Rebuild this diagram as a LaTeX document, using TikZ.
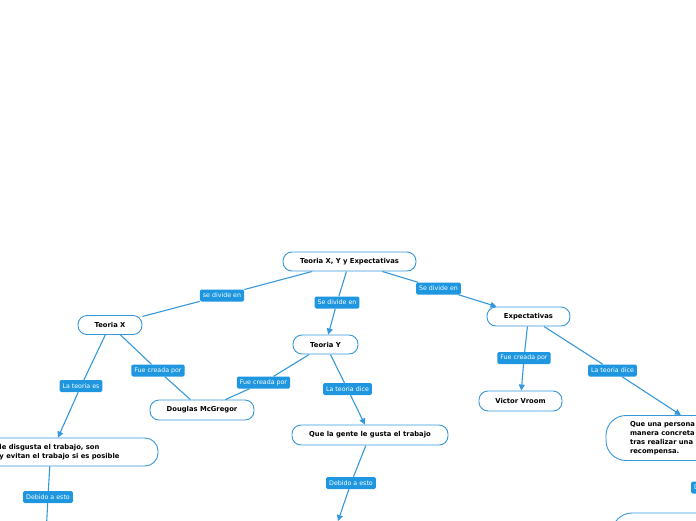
\documentclass[tikz,border=0pt]{standalone}
\usepackage{fontspec}
\setmainfont{DejaVu Sans}
\usetikzlibrary{arrows.meta}
\pgfdeclarelayer{background}
\pgfsetlayers{background,main}
\definecolor{mmblue}{RGB}{30,150,224}
\definecolor{mmline}{RGB}{52,152,219}

\begin{document}
\begin{tikzpicture}[x=1pt,y=-1pt,
						topicnode/.style={draw=mmline, line width=0.9pt, fill=white, rounded corners=9pt, minimum height=19pt, inner sep=2pt, font=\fontsize{6.8}{9}\selectfont\bfseries},
						linklabel/.style={fill=mmblue, text=white, rounded corners=1.5pt, minimum height=12pt, inner xsep=3pt, inner ysep=0pt, font=\fontsize{6.3}{8}\selectfont},
						link/.style={draw=mmline, line width=1.1pt},
						arrowlink/.style={link, -{Triangle[length=6pt,width=6pt]}},
						]
						\useasboundingbox (0,0) rectangle (696,520);
						\clip (0,0) rectangle (696,520);
						%Nodes
						\node[topicnode, minimum width=133pt]	(root)		at	(349.5,261.5)	{Teoria X, Y y Expectativas};
						\node[topicnode, minimum width=64pt]	(teoX)		at	(110,325)	{Teoria X};
						\node[topicnode, minimum width=65pt]	(teoY)		at	(325.5,344.5)	{Teoria Y};
						\node[topicnode, minimum width=83pt]	(expect)	at	(528.5,316.5)	{Expectativas};
						\node[topicnode, minimum width=104pt, minimum height=20pt]	(mcgregor)	at	(202,410)	{Douglas McGregor};
						\node[topicnode, minimum width=83pt, minimum height=20pt]	(vroom)		at	(520.5,401)	{Victor Vroom};
						\node[topicnode, minimum width=156pt, minimum height=20pt]	(gusta)		at	(370,435)	{Que la gente le gusta el trabajo};
						\node[topicnode, rounded corners=13pt, minimum width=197pt, minimum height=28pt, align=left]	(disgusta)	at	(59.5,452)	{le disgusta el trabajo, son\\y evitan el trabajo si es posible};
						\node[topicnode, rounded corners=20pt, minimum height=45pt, text width=172pt, inner xsep=24pt, align=left]	(persona)	at	(716,438)	{Que una persona\\manera concreta\\tras realizar una\\recompensa.};
						\node[topicnode, rounded corners=20pt, minimum width=220pt, minimum height=45pt]	(personaNext)	at	(722,535.5)	{};
						\coordinate	(gustaNext)	at	(338,521);
						\coordinate	(disgustaNext)	at	(46,535);
						
						%Labels
						\node[linklabel]	(lDivX)		at	(222,295.5)	{se divide en};
						\node[linklabel]	(lDivY)		at	(337,302.5)	{Se divide en};
						\node[linklabel]	(lDivExp)	at	(438.5,288.5)	{Se divide en};
						\node[linklabel]	(lTeoEs)	at	(81,386)	{La teoria es};
						\node[linklabel]	(lCreaX)	at	(158,370.5)	{Fue creada por};
						\node[linklabel]	(lCreaY)	at	(263.5,382.5)	{Fue creada por};
						\node[linklabel]	(lDiceY)	at	(347.5,389)	{La teoria dice};
						\node[linklabel]	(lDebX)		at	(48,497)	{Debido a esto};
						\node[linklabel]	(lDebY)		at	(351,483)	{Debido a esto};
						\node[linklabel]	(lCreaExp)	at	(524,358)	{Fue creada por};
						\node[linklabel]	(lDiceExp)	at	(612.5,370.5)	{La teoria dice};
						\node[linklabel]	(lDebExp)	at	(716,487.5)	{Debido a esto};
						
						\begin{pgfonlayer}{background}
						\draw[link] (root) -- (lDivX) -- (teoX);
						\draw[arrowlink] (root) -- (lDivY) -- (teoY);
						\draw[arrowlink] (root) -- (lDivExp) -- (expect);
						\draw[link] (teoX) -- (lCreaX) -- (mcgregor);
						\draw[link] (teoY) -- (lCreaY) -- (mcgregor);
						\draw[arrowlink] (teoX) -- (lTeoEs) -- (disgusta.96);
						\draw[arrowlink] (teoY) -- (lDiceY) -- (gusta);
						\draw[arrowlink] (gusta) -- (lDebY) -- (gustaNext);
						\draw[arrowlink] (disgusta.236) -- (lDebX) -- (disgustaNext);
						\draw[arrowlink] (expect) -- (lCreaExp) -- (vroom);
						\draw[arrowlink] (expect) -- (lDiceExp) -- (persona);
						\draw[arrowlink] (persona) -- (lDebExp) -- (personaNext);
						\end{pgfonlayer}
\end{tikzpicture}
\end{document}
